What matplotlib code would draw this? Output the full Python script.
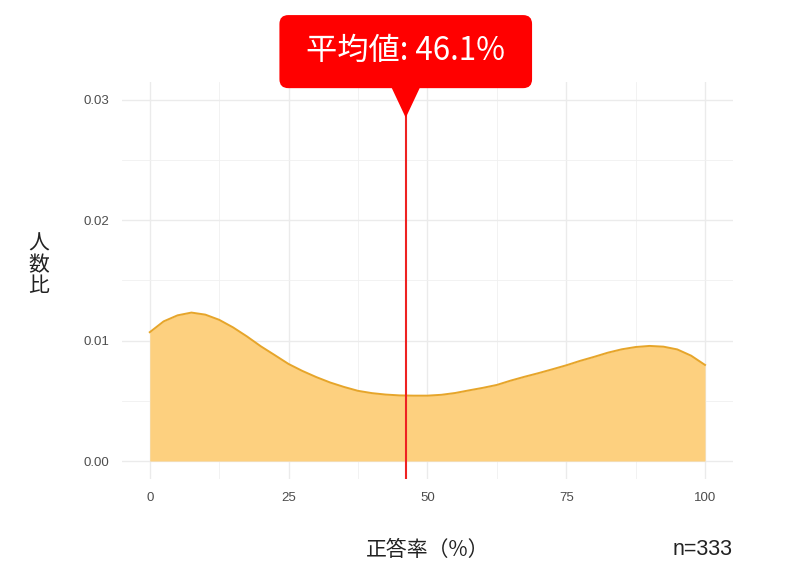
import matplotlib
matplotlib.use("Agg")
import matplotlib.pyplot as plt
import matplotlib.transforms as mtransforms
from matplotlib.patches import FancyBboxPatch, Polygon
import numpy as np

# density curve
score_pct = [0, 2.5, 5, 7.5, 10, 12.5, 15, 17.5, 20, 22.5, 25, 27.5, 30, 32.5, 35,
             37.5, 40, 42.5, 45, 47.5, 50, 52.5, 55, 57.5, 60, 62.5, 65, 67.5, 70,
             72.5, 75, 77.5, 80, 82.5, 85, 87.5, 90, 92.5, 95, 97.5, 100]
density = [0.01070, 0.01160, 0.01210, 0.01233, 0.01216, 0.01173, 0.01110, 0.01035,
           0.00953, 0.00880, 0.00806, 0.00748, 0.00697, 0.00652, 0.00615, 0.00583,
           0.00564, 0.00552, 0.00545, 0.00543, 0.00543, 0.00550, 0.00565, 0.00587,
           0.00608, 0.00632, 0.00668, 0.00700, 0.00730, 0.00762, 0.00795, 0.00832,
           0.00865, 0.00900, 0.00928, 0.00947, 0.00956, 0.00950, 0.00927, 0.00875,
           0.00798]
mean_score = 46.1
n_total = 333

x_ticks = [0, 25, 50, 75, 100]
y_ticks = [0.00, 0.01, 0.02, 0.03]
y_tick_labels = ["0.00", "0.01", "0.02", "0.03"]

jp = ["Noto Sans CJK JP", "DejaVu Sans"]
plt.rcParams["font.family"] = jp

fig = plt.figure(figsize=(8, 5.8), dpi=100)
ax = fig.add_axes([0.1525, 0.174, 0.7635, 0.685])

ax.fill_between(score_pct, 0, density, color="#fdd07f", linewidth=0, zorder=2)
ax.plot(score_pct, density, color="#e6a52a", linewidth=1.4, zorder=3,
        solid_joinstyle="round")
ax.axvline(mean_score, color="#ee2222", linewidth=1.5, zorder=4)

ax.set_xlim(-5, 105)
ax.set_ylim(-0.0015, 0.0315)
ax.set_xticks(x_ticks)
ax.set_xticklabels([str(t) for t in x_ticks])
ax.set_yticks(y_ticks)
ax.set_yticklabels(y_tick_labels)
ax.set_xticks([12.5, 37.5, 62.5, 87.5], minor=True)
ax.set_yticks([0.005, 0.015, 0.025], minor=True)
ax.grid(True, which="major", color="#ebebeb", linewidth=1.0, zorder=0)
ax.grid(True, which="minor", color="#f0f0f0", linewidth=0.6, zorder=0)
ax.set_axisbelow(True)
for s in ax.spines.values():
    s.set_visible(False)
ax.tick_params(which="both", length=0, labelsize=9.5, labelcolor="#4d4d4d")
ax.tick_params(axis="x", pad=9)
ax.tick_params(axis="y", pad=9)
for lab in ax.get_xticklabels() + ax.get_yticklabels():
    lab.set_fontfamily(["Liberation Sans", "DejaVu Sans"])

# axis titles
fig.text(0.534, 0.052, "正答率（%）", ha="center", va="center", fontsize=15, color="#222222")
fig.text(0.916, 0.052, "n=%d" % n_total, ha="right", va="center", fontsize=15.5,
         color="#222222", family=["Liberation Sans", "DejaVu Sans"])
fig.text(0.048, 0.543, "人\n数\n比", ha="center", va="center", fontsize=15,
         color="#222222", linespacing=0.95)

# callout with the mean
trans = mtransforms.blended_transform_factory(ax.transData, fig.transFigure)
box_w = 45.5  # in x data units
box = FancyBboxPatch((mean_score - box_w / 2, 0.848), box_w, 0.126,
                     boxstyle="round,pad=0,rounding_size=1.6",
                     transform=trans, facecolor="#ff0000", edgecolor="none",
                     clip_on=False, zorder=6,
                     mutation_aspect=0.0096)
fig.add_artist(box)
tri = Polygon([[mean_score - 2.7, 0.852], [mean_score + 2.7, 0.852], [mean_score, 0.797]],
              closed=True, transform=trans, facecolor="#ff0000", edgecolor="none",
              clip_on=False, zorder=6)
fig.add_artist(tri)
fig.text(mean_score, 0.913, "平均値: %.1f%%" % mean_score, transform=trans,
         ha="center", va="center", fontsize=22.5, color="white", zorder=7)

fig.savefig("out.png", dpi=100)
